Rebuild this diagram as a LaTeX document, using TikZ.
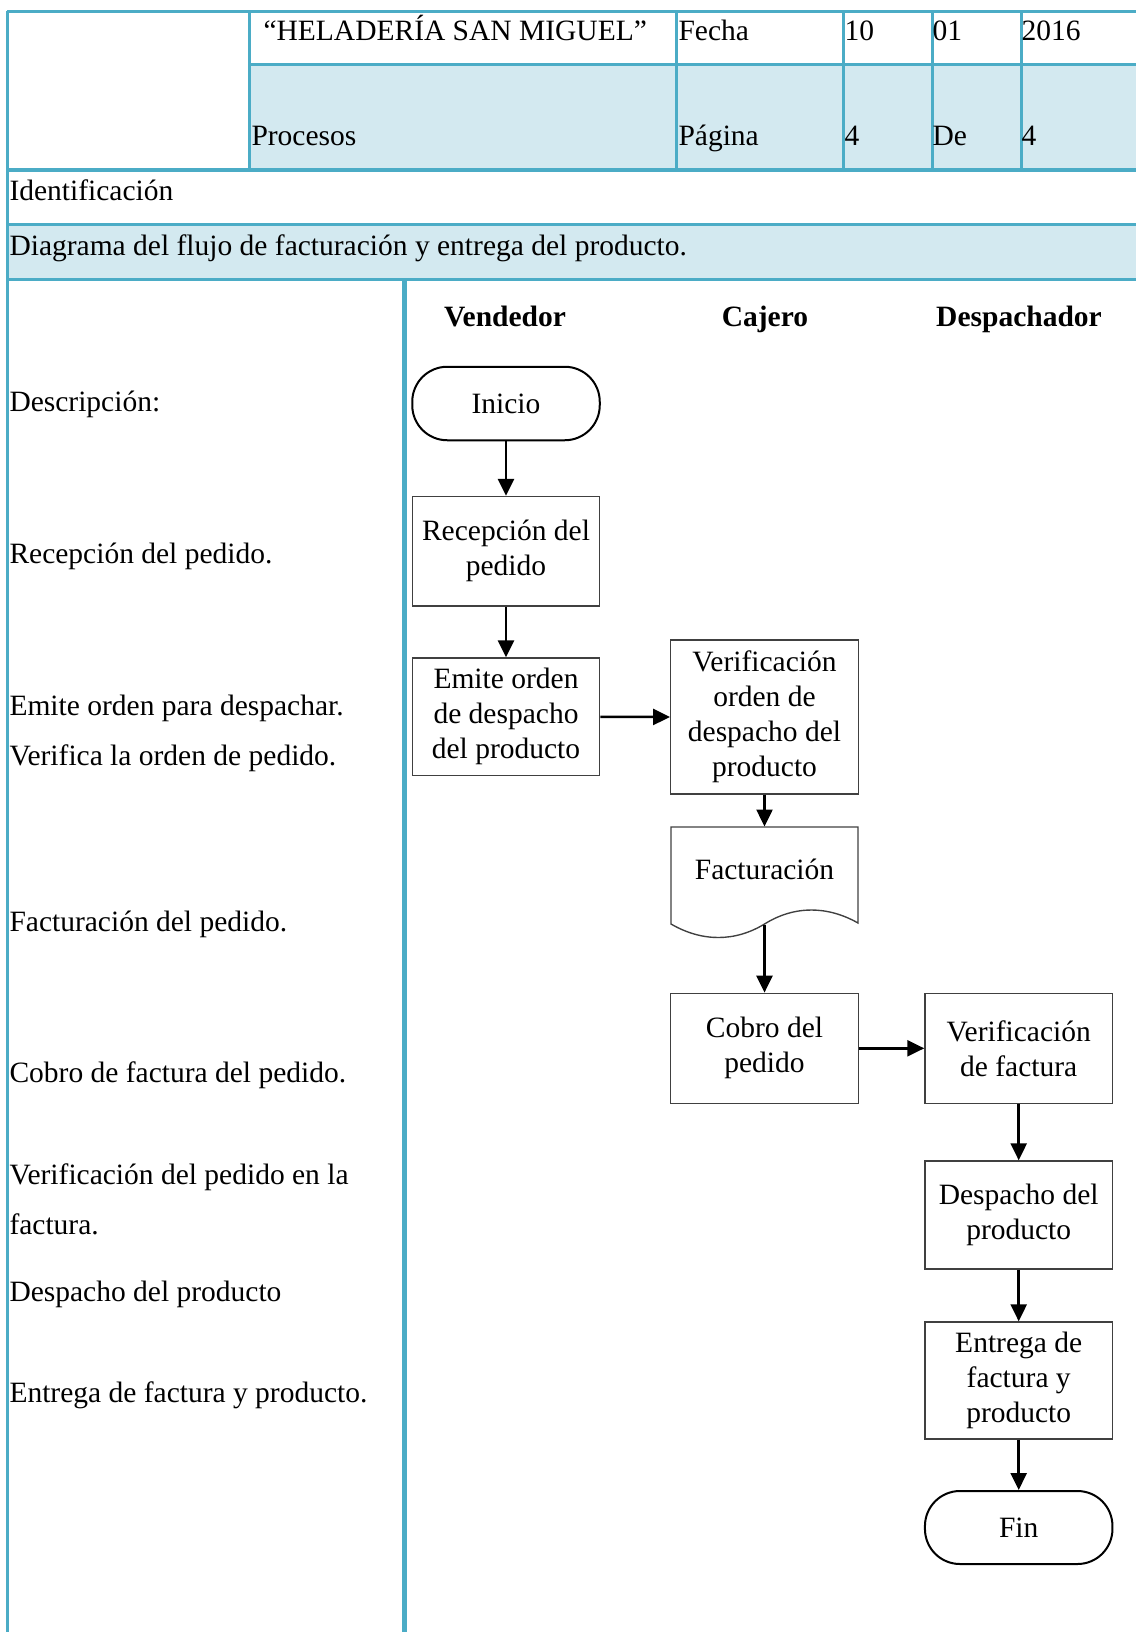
\documentclass[tikz,border=0pt]{standalone}
\usepackage{fontspec}
\setmainfont{Liberation Serif}
\usetikzlibrary{arrows.meta}
\definecolor{tline}{HTML}{4BACC6}
\definecolor{tfill}{HTML}{D3E9F0}
\definecolor{boxline}{HTML}{404040}
\tikzset{
  txt/.style={anchor=base west,inner sep=0pt,font=\fontsize{11.8}{14}\selectfont},
  lane/.style={anchor=base,inner sep=0pt,font=\fontsize{11.8}{14}\selectfont\bfseries},
  gridline/.style={draw=tline,line width=1.2pt},
  procbox/.style={draw=boxline,line width=0.55pt,rectangle,inner sep=0pt,align=center,
    minimum width=75pt,font=\fontsize{11.8}{14}\selectfont},
  termbox/.style={draw=black,line width=0.8pt,rectangle,rounded corners=14pt,inner sep=0pt,
    minimum width=75pt,minimum height=29.4pt,font=\fontsize{11.8}{14}\selectfont},
  flow/.style={line width=1pt,-{Triangle[length=6.8pt,width=6.4pt]}}
}
\begin{document}
\begin{tikzpicture}[x=0.4pt,y=-0.4pt]
\useasboundingbox (0,0) rectangle (1136,1632);
% fills
\fill[tfill] (249,64.5) rectangle (1136,170);
\fill[tfill] (7,224) rectangle (1136,279);
% grid
\draw[gridline] (7,11.5) -- (1136,11.5);
\draw[gridline] (249,64.5) -- (1136,64.5);
\draw[gridline] (7,170) -- (1136,170);
\draw[gridline] (7,224) -- (1136,224);
\draw[gridline] (7,279) -- (1136,279);
\draw[gridline] (7,11.5) -- (7,1632);
\draw[gridline] (249,11.5) -- (249,170);
\draw[gridline] (676,11.5) -- (676,170);
\draw[gridline] (843,11.5) -- (843,170);
\draw[gridline] (932,11.5) -- (932,170);
\draw[gridline] (1021,11.5) -- (1021,170);
\draw[draw=tline,line width=2pt] (404,279) -- (404,1632);
% header texts
\node[txt] (t1) at (263,40.5) {“HELADERÍA SAN MIGUEL”};
\node[txt] (t2) at (678,40.5) {Fecha};
\node[txt] (t3) at (844,40.5) {10};
\node[txt] (t4) at (932,40.5) {01};
\node[txt] (t5) at (1021,40.5) {2016};
\node[txt] (t6) at (251,145.5) {Procesos};
\node[txt] (t7) at (678,145.5) {Página};
\node[txt] (t8) at (844,145.5) {4};
\node[txt] (t9) at (932,145.5) {De};
\node[txt] (t10) at (1021,145.5) {4};
\node[txt] (t11) at (9,200) {Identificación};
\node[txt] (t12) at (9,255) {Diagrama del flujo de facturación y entrega del producto.};
% lane headers
\node[lane] (l1) at (505,326) {Vendedor};
\node[lane] (l2) at (765,326) {Cajero};
\node[lane] (l3) at (1019,326) {Despachador};
% left descriptions
\node[txt] (d1) at (9,411) {Descripción:};
\node[txt] (d2) at (9,563) {Recepción del pedido.};
\node[txt] (d3) at (9,715) {Emite orden para despachar.};
\node[txt] (d4) at (9,765) {Verifica la orden de pedido.};
\node[txt] (d5) at (9,931.5) {Facturación del pedido.};
\node[txt] (d6) at (9,1082.5) {Cobro de factura del pedido.};
\node[txt] (d7) at (9,1184.5) {Verificación del pedido en la};
\node[txt] (d8) at (9,1234.5) {factura.};
\node[txt] (d9) at (9,1301) {Despacho del producto};
\node[txt] (d10) at (9,1402) {Entrega de factura y producto.};
% flowchart
\node[termbox] (inicio) at (506,403.5) {Inicio};
\node[procbox,minimum height=43.8pt] (recep) at (506,551.25) {Recepción del\\pedido};
\node[procbox,minimum height=47pt] (emite) at (506,716.75) {Emite orden\\de despacho\\del producto};
\node[procbox,minimum height=61.6pt] (verord) at (764.5,717) {Verificación\\orden de\\despacho del\\producto};
\node[inner sep=0pt,minimum width=75pt,minimum height=38.8pt] (fact) at (764.5,875.5) {};
\draw[draw=boxline,line width=0.55pt] (671,924) -- (671,827) -- (858,827) -- (858,923)
  .. controls (828,906) and (795,905) .. (764.5,924)
  .. controls (735,942) and (702,942) .. (671,924) -- cycle;
\node[inner sep=0pt,font=\fontsize{11.8}{14}\selectfont] (factt) at (764.5,869) {Facturación};
\node[procbox,minimum height=44pt] (cobro) at (764.5,1048.3) {Cobro del\\pedido};
\node[procbox,minimum height=44pt] (verfac) at (1018.7,1048.3) {Verificación\\de factura};
\node[procbox,minimum height=43.2pt] (desp) at (1018.7,1215) {Despacho del\\producto};
\node[procbox,minimum height=46.8pt] (entrega) at (1018.7,1380.5) {Entrega de\\factura y\\producto};
\node[termbox,minimum height=29.2pt] (fin) at (1018.7,1527.5) {Fin};
% connectors
\draw[flow] (inicio.south) -- (recep.north);
\draw[flow] (recep.south) -- (emite.north);
\draw[flow] (emite.east) -- (verord.west);
\draw[flow] (verord.south) -- (fact.north);
\draw[flow] (fact.south) -- (cobro.north);
\draw[flow] (cobro.east) -- (verfac.west);
\draw[flow] (verfac.south) -- (desp.north);
\draw[flow] (desp.south) -- (entrega.north);
\draw[flow] (entrega.south) -- (fin.north);
\end{tikzpicture}
\end{document}
